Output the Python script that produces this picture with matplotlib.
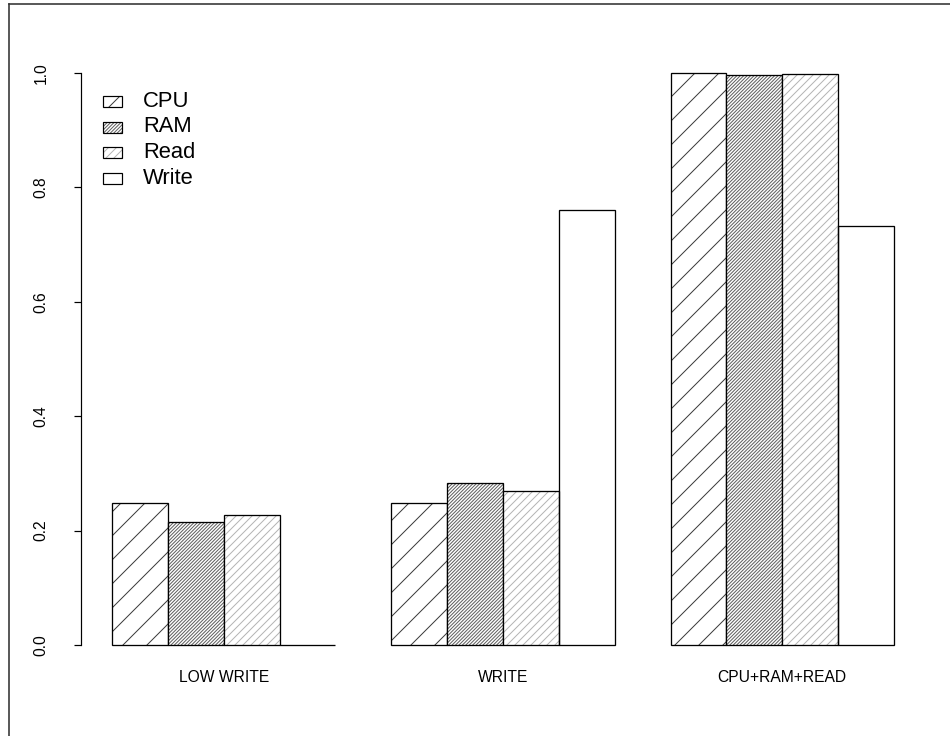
import numpy as np
import matplotlib
matplotlib.use('Agg')
import matplotlib.pyplot as plt
from matplotlib.patches import Rectangle

groups = ['LOW WRITE', 'WRITE', 'CPU+RAM+READ']
series = ['CPU', 'RAM', 'Read', 'Write']
cpu = [0.249, 0.248, 1.000]
ram = [0.215, 0.283, 0.997]
read = [0.228, 0.269, 0.998]
write = [0.0, 0.760, 0.733]
yticks = [0.0, 0.2, 0.4, 0.6, 0.8, 1.0]

# hatch pattern and line colour per series
hatches = ['//', '/' * 14, '/' * 6, '']
hcolors = ['#3a3a3a', '#606060', '#b4b4b4', 'none']

DPI = 144
plt.rcParams['font.family'] = ['Liberation Sans', 'DejaVu Sans']
plt.rcParams['hatch.linewidth'] = 0.5

fig = plt.figure(figsize=(950 / DPI, 736 / DPI), dpi=DPI)
ax = fig.add_axes([80.7 / 950, 68 / 736, (925.3 - 80.7) / 950, (668 - 50) / 736])

values = [cpu, ram, read, write]
n = len(series)
for g in range(len(groups)):
  left0 = 1 + g * (n + 1)
  for s in range(n):
    x = left0 + s
    h = values[s][g]
    if hatches[s]:
      ax.bar(x, h, width=1, align='edge', color='white', edgecolor=hcolors[s],
             hatch=hatches[s], linewidth=0)
    ax.bar(x, h, width=1, align='edge', color='none', edgecolor='black',
           linewidth=0.65)

ax.set_xlim(0.44, 15.56)
ax.set_ylim(-0.04, 1.04)
for sp in ['top', 'right', 'bottom']:
  ax.spines[sp].set_visible(False)
ax.spines['left'].set_bounds(0, 1)
ax.spines['left'].set_linewidth(0.6)
ax.set_yticks(yticks)
ax.set_yticklabels(['{:.1f}'.format(t) for t in yticks], rotation=90,
                   va='center', fontsize=7.8)
ax.tick_params(axis='y', length=3.5, width=0.6, pad=12.5)
centers = [1 + g * (n + 1) + n / 2 for g in range(len(groups))]
ax.set_xticks(centers)
ax.set_xticklabels(groups, fontsize=7.8)
ax.tick_params(axis='x', length=0, pad=1)
ax.patch.set_visible(False)

# overlay in pixel coordinates for the legend and the frame
ov = fig.add_axes([0, 0, 1, 1])
ov.set_xlim(0, 950)
ov.set_ylim(736, 0)
ov.axis('off')
ov.patch.set_visible(False)
ov.plot([9, 9], [4, 736], color='#333333', lw=0.8)
ov.plot([9, 950], [4, 4], color='#333333', lw=0.8)

ly = [101.5, 127, 152.5, 178]
for s in range(n):
  if hatches[s]:
    ov.add_patch(Rectangle((103, ly[s] - 5.5), 19, 11, facecolor='white',
                           edgecolor=hcolors[s], hatch=hatches[s], linewidth=0))
  ov.add_patch(Rectangle((103, ly[s] - 5.5), 19, 11, facecolor='none',
                         edgecolor='black', linewidth=0.6))
  ov.text(143, ly[s], series[s], fontsize=11, va='center', ha='left')

fig.savefig('out.png', dpi=DPI)
